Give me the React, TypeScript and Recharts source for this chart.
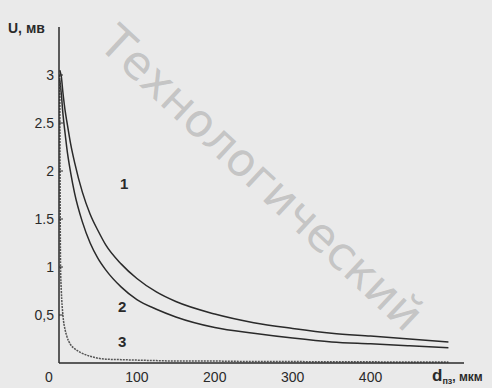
import React from 'react';
import { LineChart, Line, XAxis, YAxis } from 'recharts';

// d_пз, мкм
const thickness = [1, 2, 3, 5, 8, 10, 15, 20, 30, 40, 50, 60, 80, 100, 125, 150, 200, 250, 300, 350, 400, 450, 500];
// U, мВ
const curve1 = [3.05, 3.02, 2.98, 2.82, 2.62, 2.52, 2.28, 2.09, 1.78, 1.55, 1.38, 1.23, 1.03, 0.88, 0.74, 0.64, 0.51, 0.42, 0.36, 0.31, 0.28, 0.25, 0.22];
const curve2 = [2.95, 2.88, 2.8, 2.6, 2.38, 2.24, 1.98, 1.77, 1.47, 1.25, 1.09, 0.97, 0.79, 0.66, 0.56, 0.48, 0.37, 0.31, 0.26, 0.22, 0.2, 0.18, 0.16];
const curve3 = [3.0, 1.0, 0.75, 0.5, 0.34, 0.28, 0.19, 0.15, 0.1, 0.07, 0.05, 0.04, 0.035, 0.03, 0.025, 0.02, 0.02, 0.015, 0.015, 0.012, 0.012, 0.01, 0.01];

const xTicks = [0, 100, 200, 300, 400];
const yTicks = [0.5, 1, 1.5, 2, 2.5, 3];
const yTickText: Record<number, string> = { 0.5: '0,5', 1: '1', 1.5: '1.5', 2: '2', 2.5: '2.5', 3: '3' };

const rows = thickness.map((d, i) => ({ d, u1: curve1[i], u2: curve2[i], u3: curve3[i] }));

const font = 'Liberation Sans, Arial, sans-serif';
const ink = '#2a2a2a';

const XTick = (props: any) => {
  const { x, y, payload } = props;
  const dx = payload.value === 0 ? -10 : 0;
  return (
    <text x={x + dx} y={y + 11} textAnchor="middle" fontFamily={font} fontSize={14} fill={ink}>
      {payload.value}
    </text>
  );
};

const YTick = (props: any) => {
  const { x, y, payload } = props;
  return (
    <g>
      <text x={x} y={y + 5} textAnchor="end" fontFamily={font} fontSize={14} fill={ink}>
        {yTickText[payload.value]}
      </text>
      <line x1={x + 5} x2={x + 9} y1={y} y2={y} stroke={ink} strokeWidth={1} />
    </g>
  );
};

export default function App() {
  return (
    <div style={{ position: 'relative', width: 492, height: 388, background: '#eaeaea', overflow: 'hidden' }}>
      <style>{`body{margin:0}`}</style>
      <LineChart width={492} height={388} data={rows} margin={{ top: 27, right: 28, bottom: 5, left: 19 }}>
        <XAxis
          dataKey="d"
          type="number"
          domain={[0, 520]}
          ticks={xTicks}
          tick={<XTick />}
          tickLine={false}
          axisLine={{ stroke: ink, strokeWidth: 1.5 }}
          height={20}
          interval={0}
        />
        <YAxis
          type="number"
          domain={[0, 3.5]}
          ticks={yTicks}
          tick={<YTick />}
          tickLine={false}
          tickSize={0}
          tickMargin={5}
          axisLine={{ stroke: ink, strokeWidth: 1.5 }}
          width={40}
          interval={0}
        />
        <Line type="monotone" dataKey="u1" stroke={ink} strokeWidth={1.5} dot={false} isAnimationActive={false} />
        <Line type="monotone" dataKey="u2" stroke={ink} strokeWidth={1.5} dot={false} isAnimationActive={false} />
        <Line type="monotone" dataKey="u3" stroke="#555" strokeWidth={1.5} strokeDasharray="2 1" dot={false} isAnimationActive={false} />
      </LineChart>
      <div style={{ position: 'absolute', left: 8, top: 20, fontFamily: font, fontWeight: 'bold', fontSize: 14, color: ink }}>
        U, мв
      </div>
      <div style={{ position: 'absolute', left: 120, top: 175, fontFamily: font, fontWeight: 'bold', fontSize: 15, color: ink }}>1</div>
      <div style={{ position: 'absolute', left: 118, top: 298, fontFamily: font, fontWeight: 'bold', fontSize: 15, color: ink }}>2</div>
      <div style={{ position: 'absolute', left: 118, top: 333, fontFamily: font, fontWeight: 'bold', fontSize: 15, color: ink }}>3</div>
      <div style={{ position: 'absolute', left: 432, top: 366, fontFamily: font, fontSize: 12, color: ink, whiteSpace: 'nowrap' }}>
        <span style={{ fontSize: 17, fontWeight: 'bold' }}>d</span>
        <sub style={{ fontSize: 9, fontWeight: 'bold' }}>пз</sub>
        <span style={{ fontWeight: 'bold' }}>, мкм</span>
      </div>
      <div
        style={{
          position: 'absolute',
          left: 262,
          top: 178,
          transform: 'translate(-50%, -50%) rotate(43deg)',
          fontFamily: 'DejaVu Sans, sans-serif',
          fontSize: 46,
          color: 'rgba(150,150,150,0.45)',
          whiteSpace: 'nowrap',
          pointerEvents: 'none',
        }}
      >
        Технологический
      </div>
    </div>
  );
}
